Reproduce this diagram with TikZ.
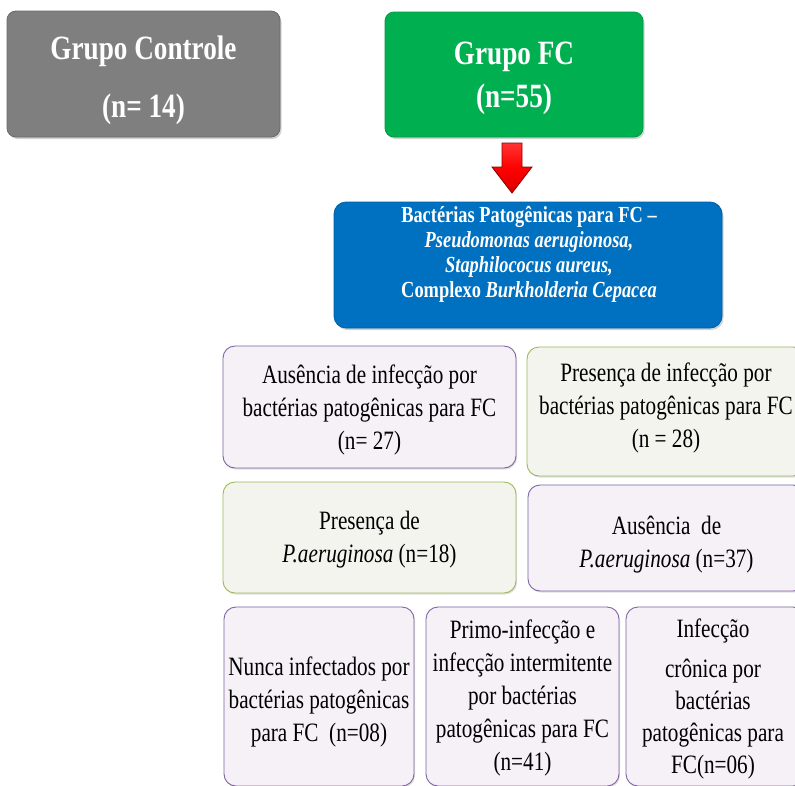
\documentclass[tikz,border=0pt]{standalone}
\usepackage{fontspec}
\setmainfont{Liberation Serif}[FakeStretch=0.8]
\usetikzlibrary{shadows}
\definecolor{cgrey}{HTML}{7F7F7F}
\definecolor{cgreyd}{HTML}{6A6A6A}
\definecolor{cgreen}{HTML}{00B050}
\definecolor{cgreend}{HTML}{009A44}
\definecolor{cblue}{HTML}{0070C0}
\definecolor{cblued}{HTML}{005FA6}
\definecolor{cred}{HTML}{FF0000}
\definecolor{credd}{HTML}{8B0000}
\definecolor{cpurple}{HTML}{8064A2}
\definecolor{colive}{HTML}{9BBB59}
\definecolor{fpurple}{HTML}{F5F1F6}
\definecolor{folive}{HTML}{F4F4EF}
\tikzset{
  topbox/.style={rounded corners=9pt, inner sep=0pt, line width=0.8pt,
    drop shadow={shadow xshift=1.5pt, shadow yshift=-2pt, opacity=0.35}},
  toptext/.style={text=white, align=center, font=\bfseries},
  lightbox/.style={rounded corners=12pt, inner sep=0pt, line width=0.9pt,
    align=center, font=\fontsize{26.5}{33}\selectfont,
    drop shadow={shadow xshift=1pt, shadow yshift=-1.5pt, opacity=0.25}},
  pbox/.style={lightbox, draw=cpurple, fill=fpurple},
  obox/.style={lightbox, draw=colive, fill=folive},
  txt/.style={align=center, font=\fontsize{26.5}{33}\selectfont},
}
\begin{document}
\begin{tikzpicture}[x=1pt,y=-1pt]
\clip (0,0) rectangle (795,785);
\fill[white] (0,0) rectangle (795,785);
% top boxes
\node[topbox, draw=cgreyd, fill=cgrey, minimum width=273pt, minimum height=126pt] (ctrl) at (143.5,74) {};
\node[toptext, font=\bfseries\fontsize{34}{58}\selectfont] (ctrltxt) at (143.5,80) {Grupo Controle\\(n= 14)};
\node[topbox, draw=cgreend, fill=cgreen, minimum width=258pt, minimum height=125pt] (fc) at (514,74.5) {};
\node[toptext, font=\bfseries\fontsize{34}{43}\selectfont] (fctxt) at (514,78.5) {Grupo FC\\(n=55)};
% blue box
\node[topbox, draw=cblued, fill=cblue, rounded corners=12pt, minimum width=388pt, minimum height=126pt] (bact) at (528,265) {};
\node[toptext, font=\bfseries\fontsize{23}{25}\selectfont] (bacttxt) at (529,254.5)
  {Bactérias Patogênicas para FC –\\\textit{Pseudomonas aerugionosa,}\\\textit{Staphilococus aureus,}\\Complexo \textit{Burkholderia Cepacea}};
% red block arrow
\coordinate (atop) at (512,143);
\draw[credd, line width=0.8pt, top color=cred!80!white, bottom color=cred!85!black, middle color=cred]
  ([xshift=-10pt]atop) -- ([xshift=10pt]atop) -- ([xshift=10pt,yshift=-24pt]atop)
  -- ([xshift=20pt,yshift=-24pt]atop) -- ([yshift=-50pt]atop) -- ([xshift=-20pt,yshift=-24pt]atop)
  -- ([xshift=-10pt,yshift=-24pt]atop) -- cycle;
% row 1
\node[pbox, minimum width=293pt, minimum height=122pt] (aus1) at (369.5,407) {};
\node[txt] (aus1t) at (369.5,410) {Ausência de infecção por\\bactérias patogênicas para FC\\(n= 27)};
\node[obox, minimum width=278pt, minimum height=129pt] (pre1) at (666,411.5) {};
\node[txt] (pre1t) at (666,408) {Presença de infecção por\\bactérias patogênicas para FC\\(n = 28)};
% row 2
\node[obox, minimum width=293pt, minimum height=111pt] (pre2) at (369.5,537.5) {};
\node[txt] (pre2t) at (369.5,540) {Presença de\\\textit{P.aeruginosa} (n=18)};
\node[pbox, minimum width=277pt, minimum height=106pt] (aus2) at (666.5,538) {};
\node[txt] (aus2t) at (666.5,545) {Ausência\ \ de\\\textit{P.aeruginosa} (n=37)};
% row 3
\node[pbox, minimum width=190pt, minimum height=179pt] (nunca) at (319,696.5) {};
\node[txt] (nuncat) at (319,702) {Nunca infectados por\\bactérias patogênicas\\para FC\ \ (n=08)};
\node[pbox, minimum width=193pt, minimum height=179pt] (primo) at (522.5,696.5) {};
\node[txt] (primot) at (522.5,698) {Primo-infecção e\\infecção intermitente\\por bactérias\\patogênicas para FC\\(n=41)};
\node[pbox, minimum width=179pt, minimum height=179pt] (cron) at (715.5,696.5) {};
\node[txt, font=\fontsize{26.5}{32}\selectfont] (cront) at (713,699) {Infecção\\[8pt]crônica por\\bactérias\\patogênicas para\\FC(n=06)};
\end{tikzpicture}
\end{document}
